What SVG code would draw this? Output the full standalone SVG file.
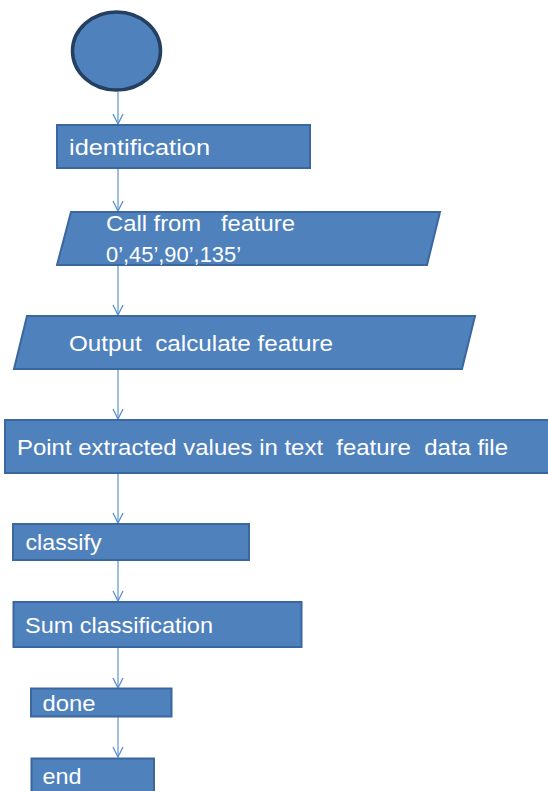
<svg xmlns="http://www.w3.org/2000/svg" width="548" height="791" viewBox="0 0 548 791">
  <defs>
    <marker id="arrow" viewBox="0 0 12 12" refX="11" refY="6" markerWidth="12" markerHeight="12" markerUnits="userSpaceOnUse" orient="auto">
      <path d="M1,1 L11,6 L1,11" fill="none" stroke="#5b8fd0" stroke-width="1.3"/>
    </marker>
  </defs>
  <style>
    .shape { fill: #4f81bd; stroke: #3a679e; stroke-width: 2; }
    .start { fill: #4f81bd; stroke: #243f60; stroke-width: 3.5; }
    .label { fill: #ffffff; font-family: "Liberation Sans", Arial, sans-serif; font-size: 22px; white-space: pre; }
    .edge { fill: none; stroke: #6a9bd6; stroke-width: 1.3; marker-end: url(#arrow); }
  </style>
  <rect width="548" height="791" fill="#ffffff"/>

  <g id="connectors">
    <path class="edge" d="M118,92 L118,124"/>
    <path class="edge" d="M118,169 L118,211"/>
    <path class="edge" d="M118,265 L118,315"/>
    <path class="edge" d="M118,370 L118,419"/>
    <path class="edge" d="M118,474 L118,523"/>
    <path class="edge" d="M118,561 L118,601"/>
    <path class="edge" d="M118,647 L118,688"/>
    <path class="edge" d="M118,717 L118,757"/>
  </g>

  <g id="start">
    <ellipse class="start" cx="116.5" cy="51" rx="44" ry="39"/>
  </g>

  <g id="identification">
    <rect class="shape" x="57" y="125" width="253" height="43"/>
    <text class="label" x="69" y="155" textLength="141" lengthAdjust="spacingAndGlyphs">identification</text>
  </g>

  <g id="call-feature">
    <polygon class="shape" points="71,212 440,212 427,265 57,265"/>
    <text class="label" x="106" y="231" textLength="189" lengthAdjust="spacingAndGlyphs">Call from   feature</text>
    <text class="label" x="106" y="262" textLength="135" lengthAdjust="spacingAndGlyphs">0’,45’,90’,135’</text>
  </g>

  <g id="output-feature">
    <polygon class="shape" points="27,316 475,316 462,369 14,369"/>
    <text class="label" x="69" y="351" textLength="264" lengthAdjust="spacingAndGlyphs">Output  calculate feature</text>
  </g>

  <g id="point-values">
    <rect class="shape" x="5" y="420" width="560" height="53"/>
    <text class="label" x="17" y="455" textLength="491" lengthAdjust="spacingAndGlyphs">Point extracted values in text  feature  data file</text>
  </g>

  <g id="classify">
    <rect class="shape" x="13" y="524" width="236" height="36"/>
    <text class="label" x="25.5" y="550" textLength="76" lengthAdjust="spacingAndGlyphs">classify</text>
  </g>

  <g id="sum-classification">
    <rect class="shape" x="13.5" y="602" width="288" height="45"/>
    <text class="label" x="25" y="633" textLength="188" lengthAdjust="spacingAndGlyphs">Sum classification</text>
  </g>

  <g id="done">
    <rect class="shape" x="31" y="688.5" width="140.5" height="28"/>
    <text class="label" x="42.5" y="711" textLength="53" lengthAdjust="spacingAndGlyphs">done</text>
  </g>

  <g id="end">
    <rect class="shape" x="31.5" y="758.5" width="122.5" height="45"/>
    <text class="label" x="42.5" y="784" textLength="39" lengthAdjust="spacingAndGlyphs">end</text>
  </g>
</svg>
